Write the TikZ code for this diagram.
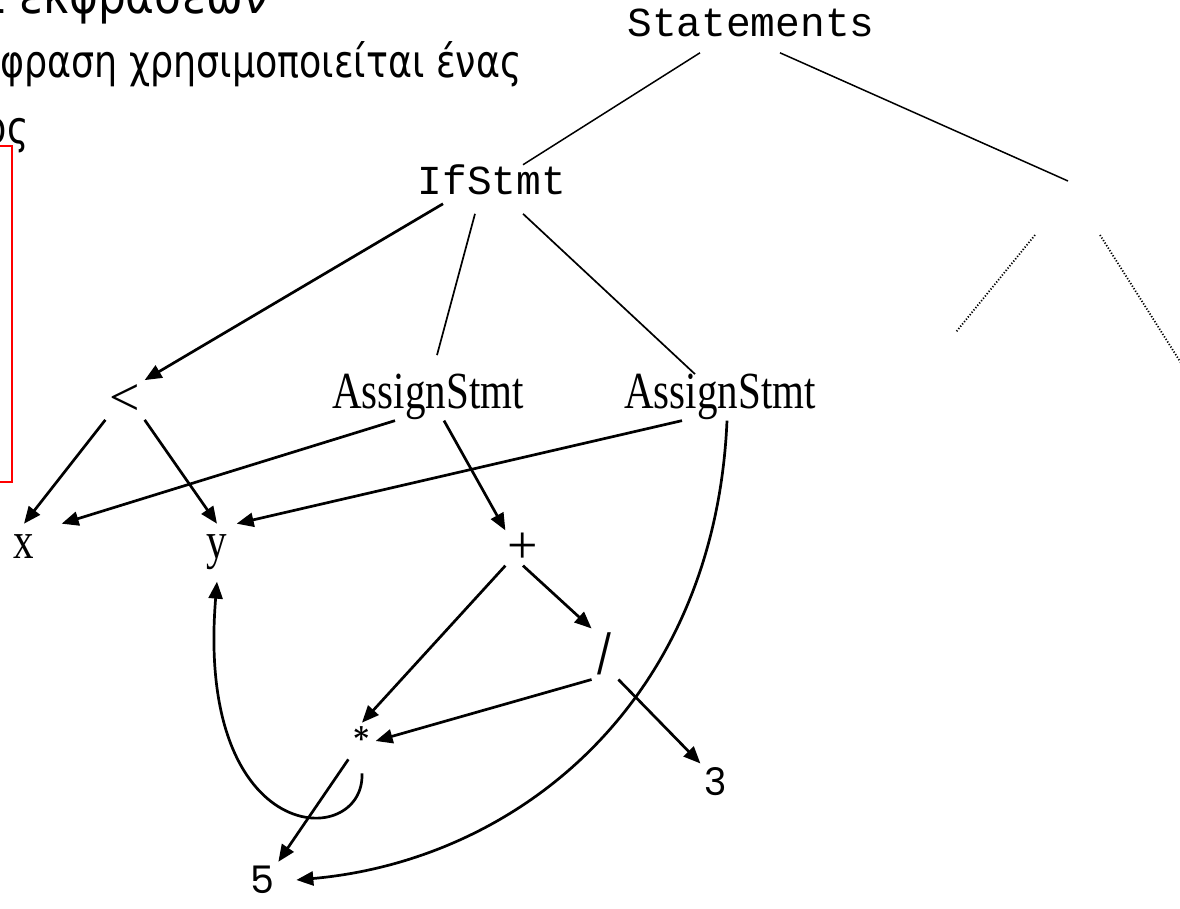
\documentclass[tikz,border=0pt]{standalone}
\usepackage{fontspec}
\usepackage{graphicx}
\setmainfont{Liberation Serif}
\newfontfamily\slidefam{DejaVu Sans}[FakeStretch=0.81]
\newfontfamily\titlefam{DejaVu Sans}[FakeStretch=0.86]
\newfontfamily\codefam{Liberation Mono}
\newfontfamily\symfam{Poppins}
\usetikzlibrary{arrows.meta,calc}
\newcommand{\titlefnt}{\fontsize{25.5pt}{30pt}\titlefam}
\newcommand{\slidefnt}{\fontsize{22.5pt}{26pt}\slidefam}
\newcommand{\codefnt}{\fontsize{20.6pt}{24pt}\codefam}
\newcommand{\wordfnt}{\fontsize{20.5pt}{24pt}\selectfont}
\newcommand{\opfnt}{\fontsize{27pt}{30pt}\selectfont}
\newcommand{\symfnt}{\fontsize{19pt}{22pt}\symfam}
\newcommand{\stretched}[1]{\scalebox{1}[1.27]{#1}}

\begin{document}
\begin{tikzpicture}[x=0.5pt,y=-0.5pt,
  >={Triangle[length=8.5pt,width=7pt]},
  slide/.style={font=\slidefnt,inner sep=0pt},
  code/.style={font=\codefnt,inner sep=0pt},
  word/.style={font=\wordfnt,inner sep=0pt},
  op/.style={font=\opfnt,inner sep=2pt},
  glyph/.style={font=\symfnt,inner sep=2pt},
  edge/.style={line width=0.85pt},
  arr/.style={->,line width=1.35pt},
  dots/.style={line width=0.9pt,dash pattern=on 0.6pt off 0.9pt}]
  \path[use as bounding box] (0,0) rectangle (1180,909);
  \clip (0,0) rectangle (1180,909);

  % slide text behind the tree
  \node[slide,font=\titlefnt,anchor=base east] (t1) at (268,14) {ι εκφράσεων};
  \node[slide,anchor=base east] (t2) at (522,78) {φραση χρησιμοποιείται ένας};
  \node[slide,anchor=base east] (t3) at (29,144) {ος};
  \draw[red,line width=1pt] (-20,146) rectangle (12,482);

  % tree nodes
  \node[code,anchor=base] (stm) at (751,37) {Statements};
  \node[code,anchor=base] (ifs) at (492,195) {IfStmt};
  \node[word,anchor=base] (as1) at (428,409) {\stretched{AssignStmt}};
  \node[word,anchor=base] (as2) at (720,409) {\stretched{AssignStmt}};
  \node[op] (lt) at (125,400) {<};
  \node[word,anchor=base,inner xsep=13.5pt,inner ysep=5.5pt] (xv) at (24,559) {\stretched{x}};
  \node[word,anchor=base,inner xsep=4.5pt,inner ysep=5.5pt] (yv) at (217,559) {\stretched{y}};
  \node[op,inner sep=1pt] (pl) at (523,548) {+};
  \node[glyph] (mul) at (362,741) {*};
  \node[glyph] (sl) at (605,654) {/};
  \node[glyph] (thr) at (716,782) {3};
  \node[glyph] (five) at (262,880) {5};
  \coordinate (rt) at (1068,181);
  \coordinate (dl1) at (1035,235);
  \coordinate (dl2) at (956,332);
  \coordinate (dr1) at (1100,235);
  \coordinate (dr2) at (1188,374);

  % plain tree lines
  \draw[line width=0.75pt] ([xshift=-25.5pt,yshift=-7.5pt]stm.south) -- ([xshift=15.5pt]ifs.north);
  \draw[line width=0.75pt] ([xshift=14.5pt,yshift=-7.5pt]stm.south) -- (rt);
  \draw[dots] (dl1) -- (dl2);
  \draw[dots] (dr1) -- (dr2);
  \draw[edge] ([xshift=-8.5pt,yshift=-9pt]ifs.south) -- ([xshift=4.5pt,yshift=9.5pt]as1.north);
  \draw[edge] ([xshift=15.5pt,yshift=-9pt]ifs.south) -- ([xshift=-12.5pt]as2.north);

  % pointers
  \draw[arr] ([xshift=-24.5pt,yshift=-4pt]ifs.south) -- (lt.north east);
  \draw[arr] ([xshift=-16.5pt]as1.south) -- (xv.north east);
  \draw[arr] ([xshift=8pt]as1.south) -- (pl.north west);
  \draw[arr] ([xshift=-19pt]as2.south) -- (yv.north east);
  \foreach \a/\b in {lt.south west/xv.north, lt.south east/yv.north,
    pl.south west/mul.north, pl.south/sl.north west, sl.south west/mul.east,
    sl.south east/thr.north west, mul.south west/five.north east}
    { \draw[arr] (\a) -- (\b); }
  \draw[arr] ([xshift=3.5pt]as2.south) .. controls (715,700) and (520,860) .. ([xshift=9pt]five.east);
  \draw[arr] ([yshift=-7pt]mul.south) .. controls (365,850) and (195,850) .. (yv.south);
\end{tikzpicture}
\end{document}
